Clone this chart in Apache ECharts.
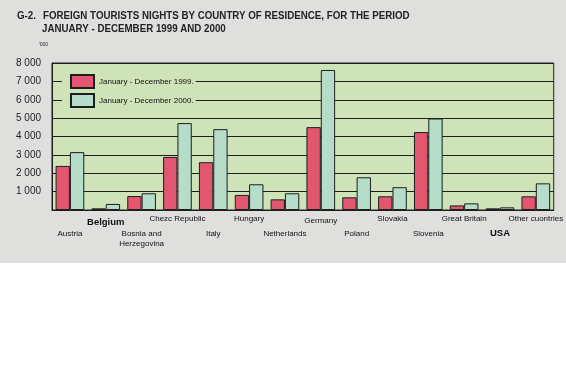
<!DOCTYPE html>
<html><head><meta charset="utf-8">
<script src="https://cdn.jsdelivr.net/npm/echarts@6/dist/echarts.min.js"></script>
<style>html,body{margin:0;padding:0;background:#fff}#c{width:566px;height:386px}</style>
</head><body><div id="c"></div>
<script>
const categories = ['Austria','Belgium','Bosnia and\nHerzegovina','Chezc Republic','Italy','Hungary','Netherlands','Germany','Poland','Slovakia','Slovenia','Great Britain','USA','Other cuontries'];
const values1999 = [2400, 90, 760, 2890, 2600, 820, 580, 4510, 690, 745, 4240, 250, 90, 745];
const values2000 = [3150, 330, 910, 4730, 4400, 1400, 910, 7620, 1780, 1240, 4980, 360, 145, 1450];
const seriesNames = ['January - December 1999.', 'January - December 2000.'];
const yTicks = [0, 1000, 2000, 3000, 4000, 5000, 6000, 7000, 8000];
const titleLines = ['FOREIGN TOURISTS NIGHTS BY COUNTRY OF RESIDENCE, FOR THE PERIOD', 'JANUARY - DECEMBER 1999 AND 2000'];

const RED = '#e2566f', CYAN = '#b6ddc9', PLOT = '#cee3b7', GRAY = '#dfdfdd', INK = '#1e1e1e';
const FONT = 'Liberation Sans, Arial, sans-serif';
// label stagger style per category (layout only)
const labelStyle = ['lo','hiB','bos','hi','lo','hi','lo','ger','lo','hi','lo','hi','loB','hi'];

const titleFont = 'bold 11px "Liberation Sans", Arial, sans-serif';
const chart = echarts.init(document.getElementById('c'), null, {renderer:'canvas'});
chart.setOption({
  backgroundColor: '#ffffff',
  animation: false,
  graphic: [
    {type:'rect', left:0, top:0, shape:{width:566, height:263}, style:{fill:GRAY}, z:-10, silent:true},
    {type:'text', x:17, y:10, scaleX:0.886, style:{text:'G-2.', font:titleFont, fill:'#222'}},
    {type:'text', x:43, y:10, scaleX:0.886, style:{text:titleLines[0], font:titleFont, fill:'#222'}},
    {type:'text', x:42, y:23, scaleX:0.886, style:{text:titleLines[1], font:titleFont, fill:'#222'}}
  ],
  legend: {
    orient:'vertical', left:62, top:70, itemWidth:23, itemHeight:13, itemGap:4,
    backgroundColor: PLOT, padding:[4,2,4,8], icon:'rect',
    textStyle:{fontFamily:FONT, fontSize:8, color:'#111'},
    data: seriesNames
  },
  grid: {left:52, right:8, top:63, bottom:176, show:true, backgroundColor:PLOT, borderColor:INK, borderWidth:1},
  xAxis: {
    type:'category', data:categories,
    axisLine:{show:true, lineStyle:{color:INK, width:1}}, axisTick:{show:false},
    axisLabel:{
      interval:0, margin:2, verticalAlign:'top', color:'#111',
      fontFamily:FONT, fontSize:8,
      formatter: function(v, i){
        const s = labelStyle[i];
        if (s === 'bos') { const p = v.split('\n'); return '{bos|'+p[0]+'}\n{bos2|'+p[1]+'}'; }
        return '{'+s+'|'+v+'}';
      },
      rich:{
        hi:{fontSize:8, lineHeight:14, color:'#111', fontFamily:FONT},
        ger:{fontSize:8, lineHeight:18, color:'#111', fontFamily:FONT},
        lo:{fontSize:8, lineHeight:44, color:'#111', fontFamily:FONT},
        bos:{fontSize:8, lineHeight:27, padding:[16,0,0,0], color:'#111', fontFamily:FONT},
        bos2:{fontSize:8, lineHeight:10, color:'#111', fontFamily:FONT},
        hiB:{fontSize:9.5, fontWeight:'bold', lineHeight:20.6, color:'#111', fontFamily:FONT},
        loB:{fontSize:9.5, fontWeight:'bold', lineHeight:42.6, color:'#111', fontFamily:FONT}
      }
    }
  },
  yAxis: {
    type:'value', min:yTicks[0], max:yTicks[yTicks.length-1], interval:1000,
    name:"'000", nameLocation:'end', nameGap:16,
    nameTextStyle:{fontSize:5, color:'#222', align:'right', padding:[0,4,0,0], fontFamily:FONT},
    axisLine:{show:true, lineStyle:{color:INK}}, axisTick:{show:false},
    splitLine:{show:true, lineStyle:{color:INK, width:1}},
    axisLabel:{margin:11, fontSize:10, color:'#222', fontFamily:FONT,
      formatter: v => v === 0 ? '' : String(v).replace(/\B(?=(\d{3})+(?!\d))/g, ' ')}
  },
  series: [
    {name:seriesNames[0], type:'bar', data:values1999, barGap:'0%', barCategoryGap:'20%',
     itemStyle:{color:RED, borderColor:INK, borderWidth:1}},
    {name:seriesNames[1], type:'bar', data:values2000, barGap:'0%', barCategoryGap:'20%',
     itemStyle:{color:CYAN, borderColor:INK, borderWidth:1}}
  ]
});
</script></body></html>
